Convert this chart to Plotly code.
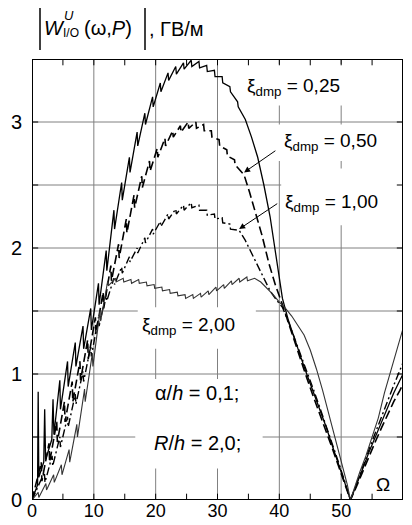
import plotly.graph_objects as go

# ---------------- data ----------------
x_025 = [0, 0.9, 1.0, 1.1, 1.9, 2.05, 2.2, 3.2, 3.4, 3.55,
         4.5, 4.6, 5.75, 5.85, 7.0, 7.1, 8.25, 8.35, 9.5, 9.6, 10.75, 10.85,
         12.0, 12.1, 13.25, 13.35, 14.5, 14.6, 15.75, 15.85, 17.0, 17.1,
         18.25, 18.35, 19.5, 19.6, 20.75, 20.85, 22.0, 22.1, 23.25, 23.35,
         24.5, 24.6, 25.75, 25.85, 27.0, 27.1, 28.25, 28.35, 29.5, 29.6,
         30.75, 30.85, 32.0, 32.1, 33.25, 33.35,
         34.5, 35.5, 36.5, 37.5, 38.5, 39.5, 40.5, 41.5, 42.5, 43.5, 44.5,
         45.5, 46.5, 47.5, 48.5, 49.5, 50.5, 51.5, 52.5, 53.5, 54.5, 55.5,
         56.5, 57.5, 58.5, 59.5, 60]
y_025 = [0, 0.12, 0.86, 0.18, 0.30, 0.72, 0.32, 0.48, 0.80, 0.52,
         0.95, 0.72, 1.10, 0.90, 1.25, 1.06, 1.38, 1.20, 1.52, 1.35, 1.72, 1.55,
         1.98, 1.82, 2.30, 2.15, 2.52, 2.38, 2.72, 2.60, 2.92, 2.81,
         3.07, 2.98, 3.20, 3.12, 3.31, 3.24, 3.39, 3.33, 3.44, 3.38,
         3.47, 3.42, 3.49, 3.44, 3.48, 3.43, 3.45, 3.40, 3.41, 3.36,
         3.36, 3.31, 3.28, 3.24, 3.16, 3.12,
         3.02, 2.88, 2.72, 2.50, 2.25, 1.93, 1.60, 1.42, 1.27, 1.13, 0.99,
         0.86, 0.73, 0.59, 0.44, 0.30, 0.15, 0.00, 0.12, 0.25, 0.38, 0.50,
         0.62, 0.74, 0.85, 0.95, 1.00]

x_050 = [0, 1.5, 1.6, 2.75, 2.85, 4.0, 4.1, 5.25, 5.35, 6.5, 6.6, 7.75, 7.85,
         9.0, 9.1, 10.25, 10.35, 11.5, 11.6, 12.75, 12.85, 14.0, 14.1,
         15.25, 15.35, 16.5, 16.6, 17.75, 17.85, 19.0, 19.1, 20.25, 20.35,
         21.5, 21.6, 22.75, 22.85, 24.0, 24.1, 25.25, 25.35, 26.5, 26.6,
         27.75, 27.85, 29.0, 29.1, 30.25, 30.35, 31.5, 31.6, 32.75, 32.85,
         34.3, 35.2, 36.2, 37.2, 38.3, 39.4, 40.5, 41.5, 42.5, 43.5, 44.5,
         45.5, 46.5, 47.5, 48.5, 49.5, 50.5, 51.5, 52.5, 53.5, 54.5, 55.5,
         56.5, 57.5, 58.5, 59.5, 60]
y_050 = [0, 0.30, 0.15, 0.45, 0.30, 0.62, 0.46, 0.78, 0.62, 0.94, 0.78, 1.10, 0.95,
         1.27, 1.12, 1.45, 1.32, 1.65, 1.52, 1.86, 1.74, 2.03, 1.92,
         2.23, 2.12, 2.42, 2.32, 2.57, 2.48, 2.69, 2.61, 2.79, 2.72,
         2.87, 2.81, 2.93, 2.88, 2.97, 2.92, 3.00, 2.95, 3.00, 2.95,
         2.98, 2.93, 2.93, 2.88, 2.86, 2.81, 2.78, 2.73, 2.70, 2.66,
         2.58, 2.44, 2.27, 2.10, 1.88, 1.70, 1.55, 1.40, 1.25, 1.10, 0.96,
         0.82, 0.69, 0.55, 0.42, 0.28, 0.14, 0.00, 0.11, 0.23, 0.35, 0.46,
         0.57, 0.68, 0.78, 0.87, 0.92]

x_100 = [0, 2.0, 2.1, 3.25, 3.35, 4.5, 4.6, 5.75, 5.85, 7.0, 7.1, 8.25, 8.35,
         9.5, 9.6, 10.75, 10.85, 12.0, 12.1, 13.25, 13.35, 14.5, 14.6,
         15.75, 15.85, 17.0, 17.1, 18.25, 18.35, 19.5, 19.6, 20.75, 20.85,
         22.0, 22.1, 23.25, 23.35, 24.5, 24.6, 25.75, 25.85, 27.0, 27.1,
         28.25, 28.35, 29.5, 29.6, 30.75, 30.85, 32.0, 32.1,
         33.5, 34.5, 35.5, 36.5, 37.5, 38.5, 39.5, 40.5, 41.5, 42.5, 43.5,
         44.5, 45.5, 46.5, 47.5, 48.5, 49.5, 50.5, 51.5, 52.5, 53.5, 54.5,
         55.5, 56.5, 57.5, 58.5, 59.5, 60]
y_100 = [0, 0.22, 0.14, 0.35, 0.27, 0.50, 0.42, 0.66, 0.58, 0.84, 0.76, 1.02, 0.94,
         1.22, 1.14, 1.45, 1.38, 1.64, 1.58, 1.76, 1.71, 1.85, 1.80,
         1.93, 1.89, 2.00, 1.96, 2.08, 2.04, 2.15, 2.11, 2.21, 2.17,
         2.27, 2.23, 2.31, 2.27, 2.34, 2.30, 2.36, 2.32, 2.34, 2.30,
         2.30, 2.26, 2.27, 2.23, 2.24, 2.20, 2.19, 2.15,
         2.14, 2.06, 1.96, 1.86, 1.75, 1.66, 1.59, 1.53, 1.41, 1.28, 1.15,
         1.02, 0.88, 0.74, 0.60, 0.46, 0.31, 0.16, 0.00, 0.13, 0.27, 0.40,
         0.53, 0.66, 0.79, 0.91, 1.03, 1.09]

x_200 = [0, 1.0, 1.1, 2.25, 2.35, 3.5, 3.6, 4.75, 4.85, 6.0, 6.1, 7.25, 7.35,
         8.5, 8.6, 9.75, 9.85, 11.0, 11.1, 12.25, 12.35, 13.5, 13.6,
         14.75, 14.85, 16.0, 16.1, 17.25, 17.35, 18.5, 18.6, 19.75, 19.85,
         21.0, 21.1, 22.25, 22.35, 23.5, 23.6, 24.75, 24.85, 26.0, 26.1,
         27.25, 27.35, 28.5, 28.6, 29.75, 29.85, 31.0, 31.1, 32.25, 32.35,
         33.5, 33.6, 34.75, 34.85,
         36, 37, 38, 39, 40, 41, 42, 43, 44, 45, 46, 47, 48, 49, 50, 51,
         51.5, 52, 53, 54, 55, 56, 57, 58, 59, 60]
y_200 = [0, 0.06, 0.02, 0.13, 0.08, 0.20, 0.14, 0.28, 0.20, 0.40, 0.30, 0.60, 0.50,
         0.88, 0.78, 1.16, 1.06, 1.50, 1.42, 1.74, 1.70, 1.76, 1.73,
         1.76, 1.73, 1.75, 1.72, 1.75, 1.72, 1.73, 1.70, 1.71, 1.68,
         1.69, 1.66, 1.67, 1.64, 1.65, 1.62, 1.63, 1.60, 1.63, 1.60,
         1.64, 1.61, 1.66, 1.63, 1.69, 1.66, 1.71, 1.68, 1.74, 1.71,
         1.76, 1.73, 1.77, 1.74,
         1.76, 1.73, 1.68, 1.63, 1.57, 1.52, 1.46, 1.39, 1.31, 1.19, 1.04,
         0.87, 0.68, 0.50, 0.32, 0.12,
         0.00, 0.08, 0.22, 0.35, 0.50, 0.65, 0.85, 1.02, 1.20, 1.36]

x_tickvals = [0, 10, 20, 30, 40, 50, 60]
x_ticktext = ["0", "10", "20", "30", "40", "50", "60"]
x_minor = [5, 15, 25, 35, 45, 55]
y_tickvals = [0, 1, 2, 3]
y_ticktext = ["0", "1", "2", "3"]
y_grid = [0.5, 1, 1.5, 2, 2.5, 3]
labels = ["0,25", "0,50", "1,00", "2,00"]

X_RANGE = [0, 60]
Y_RANGE = [0, 3.5]

# ---------------- figure geometry ----------------
OFF = 8                              # html body margin on every side
W, H = 412 - 2 * OFF, 525 - 2 * OFF  # figure fits the window: no scrollbars
L, R, T, B = 24, 1, 51, 17           # plot area at about 32..403 x 59..500 on screen


def paper_x(px):
    return (px - OFF - L) / (W - L - R)


def paper_y(py):
    return (H - B - (py - OFF)) / (H - T - B)


def segs(pairs):
    xs, ys = [], []
    for (x0, y0), (x1, y1) in pairs:
        xs += [x0, x1, None]
        ys += [y0, y1, None]
    return xs, ys


fig = go.Figure()
AUX = dict(mode="lines", hoverinfo="skip", showlegend=False)

# grid lines
gpairs = [((gx, Y_RANGE[0]), (gx, Y_RANGE[1])) for gx in x_tickvals[1:-1]]
gpairs += [((X_RANGE[0], gy), (X_RANGE[1], gy)) for gy in y_grid]
gx_, gy_ = segs(gpairs)
fig.add_trace(go.Scatter(x=gx_, y=gy_, line=dict(color="#808080", width=1), **AUX))

# white boxes behind the labels (the grid is interrupted there in the original)
boxes = [
    (34.0, 59.9, 3.13, 3.46),
    (38.5, 59.9, 2.69, 2.98),
    (40.3, 59.9, 2.18, 2.63),
    (17.1, 36.2, 1.20, 1.53),
    (16.7, 37.3, 0.25, 0.96),
]
for x0, x1, y0, y1 in boxes:
    fig.add_trace(go.Scatter(x=[x0, x1, x1, x0, x0], y=[y0, y0, y1, y1, y0], fill="toself",
                             fillcolor="white", line=dict(width=0, color="white"), **AUX))

# curves
fig.add_trace(go.Scatter(x=x_025, y=y_025, mode="lines",
                         line=dict(color="black", width=1.3)))
fig.add_trace(go.Scatter(x=x_050, y=y_050, mode="lines",
                         line=dict(color="black", width=1.6, dash="9px,4px")))
fig.add_trace(go.Scatter(x=x_100, y=y_100, mode="lines",
                         line=dict(color="black", width=1.4, dash="8px,3px,2px,3px")))
fig.add_trace(go.Scatter(x=x_200, y=y_200, mode="lines",
                         line=dict(color="#333333", width=1.1)))

# inside tick marks on four sides
tx_len = 0.05
ty_len = 1.0
tpairs = []
for tx in x_minor + x_tickvals[1:-1]:
    tpairs.append(((tx, Y_RANGE[0]), (tx, Y_RANGE[0] + tx_len)))
    tpairs.append(((tx, Y_RANGE[1]), (tx, Y_RANGE[1] - tx_len)))
for ty in y_grid:
    tpairs.append(((X_RANGE[0], ty), (X_RANGE[0] + ty_len, ty)))
    tpairs.append(((X_RANGE[1], ty), (X_RANGE[1] - ty_len, ty)))
tx_, ty_ = segs(tpairs)
fig.add_trace(go.Scatter(x=tx_, y=ty_, line=dict(color="black", width=1), **AUX))

# frame
fx = [X_RANGE[0], X_RANGE[1], X_RANGE[1], X_RANGE[0], X_RANGE[0]]
fy = [Y_RANGE[0], Y_RANGE[0], Y_RANGE[1], Y_RANGE[1], Y_RANGE[0]]
fig.add_trace(go.Scatter(x=fx, y=fy, line=dict(color="black", width=2), cliponaxis=False, **AUX))

# absolute-value bars of the axis title
for bx in (40, 145):
    fig.add_shape(type="line", xref="paper", yref="paper",
                  x0=paper_x(bx), x1=paper_x(bx), y0=paper_y(8), y1=paper_y(50),
                  line=dict(color="black", width=1.5))

ann = []
tf = "Liberation Sans, Arial, sans-serif"
lab_font = dict(family=tf, size=19, color="black")
ann.append(dict(x=34.3, y=2.60, ax=39.6, ay=2.78, xref="x", yref="y", axref="x", ayref="y",
                text="", showarrow=True, arrowhead=2, arrowsize=1.2, arrowwidth=1, arrowcolor="black"))
ann.append(dict(x=33.5, y=2.15, ax=39.9, ay=2.36, xref="x", yref="y", axref="x", ayref="y",
                text="", showarrow=True, arrowhead=2, arrowsize=1.2, arrowwidth=1, arrowcolor="black"))
lab_pos = [(42.3, 3.28), (48.3, 2.84), (48.4, 2.36), (25.3, 1.38)]
for (lx, ly), lt in zip(lab_pos, labels):
    ann.append(dict(x=lx, y=ly, xref="x", yref="y", showarrow=False,
                    text="ξ<sub>dmp</sub> = " + lt, font=lab_font))
ann.append(dict(x=26.7, y=0.85, xref="x", yref="y", showarrow=False,
                text="α/<i>h</i> = 0,1;", font=dict(family=tf, size=20, color="black")))
ann.append(dict(x=26.8, y=0.45, xref="x", yref="y", showarrow=False,
                text="<i>R</i>/<i>h</i> = 2,0;", font=dict(family=tf, size=20, color="black")))
ann.append(dict(x=56.8, y=0.12, xref="x", yref="y", showarrow=False,
                text="Ω", font=lab_font))

ann.append(dict(x=paper_x(42), y=paper_y(28), xref="paper", yref="paper", showarrow=False,
                text="<i>W</i>", font=dict(family=tf, size=20, color="black"), xanchor="left", yanchor="middle"))
ann.append(dict(x=paper_x(62), y=paper_y(16), xref="paper", yref="paper", showarrow=False,
                text="<i>U</i>", font=dict(family=tf, size=13, color="black"), xanchor="left", yanchor="middle"))
ann.append(dict(x=paper_x(61), y=paper_y(33), xref="paper", yref="paper", showarrow=False,
                text="I/O", font=dict(family=tf, size=12, color="black"), xanchor="left", yanchor="middle"))
ann.append(dict(x=paper_x(82), y=paper_y(28), xref="paper", yref="paper", showarrow=False,
                text="(ω,<i>P</i>)", font=dict(family=tf, size=20, color="black"), xanchor="left", yanchor="middle"))
ann.append(dict(x=paper_x(147), y=paper_y(29), xref="paper", yref="paper", showarrow=False,
                text=", ГВ/м", font=dict(family=tf, size=20, color="black"), xanchor="left", yanchor="middle"))

fig.update_layout(
    width=W, height=H,
    margin=dict(l=L, r=R, t=T, b=B, pad=0, autoexpand=False),
    paper_bgcolor="white", plot_bgcolor="white",
    showlegend=False,
    font=dict(family=tf, size=20, color="black"),
    annotations=ann,
)
fig.update_xaxes(range=X_RANGE, tickmode="array", tickvals=x_tickvals, ticktext=x_ticktext,
                 ticks="", showgrid=False, showline=False, zeroline=False,
                 automargin=False, tickfont=dict(size=18), ticklabelstandoff=-2)
fig.update_yaxes(range=Y_RANGE, tickmode="array", tickvals=y_tickvals, ticktext=y_ticktext,
                 ticks="", showgrid=False, showline=False, zeroline=False,
                 automargin=False, tickfont=dict(size=20), ticklabelstandoff=9)

fig.write_html("out.html")
